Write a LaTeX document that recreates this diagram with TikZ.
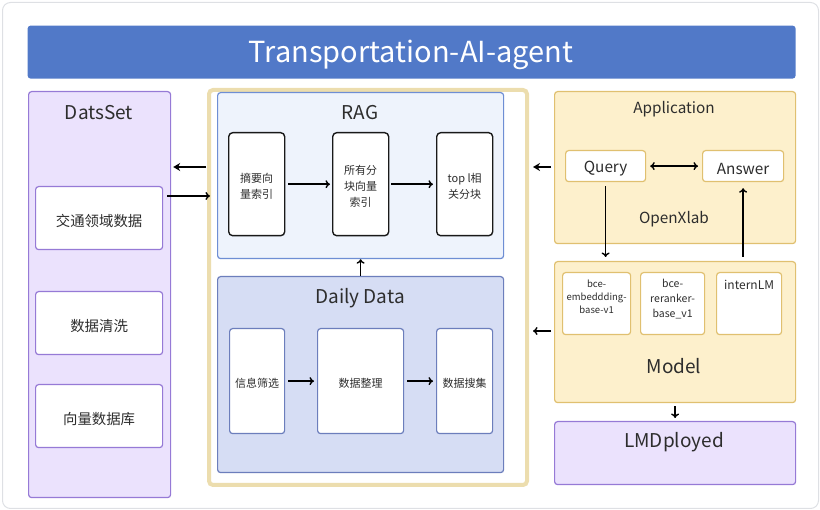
\documentclass[tikz,border=0pt]{standalone}
\usepackage{fontspec}
\setmainfont{Noto Sans CJK SC}
\usetikzlibrary{arrows.meta}
\definecolor{txt}{RGB}{45,45,45}
\definecolor{framegray}{RGB}{222,224,228}
\definecolor{titleblue}{RGB}{81,121,200}
\definecolor{lavfill}{RGB}{235,226,253}
\definecolor{lavdraw}{RGB}{150,122,214}
\definecolor{goldframe}{RGB}{236,221,174}
\definecolor{ragfill}{RGB}{238,243,252}
\definecolor{ragdraw}{RGB}{110,142,212}
\definecolor{dailyfill}{RGB}{214,221,244}
\definecolor{dailydraw}{RGB}{108,126,188}
\definecolor{yelfill}{RGB}{253,240,204}
\definecolor{yeldraw}{RGB}{224,192,112}
\tikzset{
  pnl/.style={draw, rounded corners=3pt, anchor=north west, inner sep=0pt, line width=1.2pt},
  lav/.style={pnl, fill=lavfill, draw=lavdraw},
  lavbox/.style={pnl, fill=white, draw=lavdraw},
  ragp/.style={pnl, fill=ragfill, draw=ragdraw},
  ragbox/.style={pnl, fill=white, draw=black!90, line width=1.4pt, rounded corners=4pt},
  dailyp/.style={pnl, fill=dailyfill, draw=dailydraw},
  dailybox/.style={pnl, fill=white, draw=dailydraw},
  yelp/.style={pnl, fill=yelfill, draw=yeldraw},
  yelbox/.style={pnl, fill=white, draw=yeldraw},
  lbl/.style={text=txt, inner sep=0pt, align=center, yshift=-2.5pt},
  big/.style={font=\fontsize{19}{22}\selectfont},
  mid/.style={font=\fontsize{15.3}{18}\selectfont},
  open/.style={-{To[length=4.5pt,width=8pt]}, line width=1.4pt},
  openboth/.style={{To[length=4.5pt,width=8pt]}-{To[length=4.5pt,width=8pt]}, line width=1.4pt},
  filled/.style={-{Stealth[length=7pt,width=8pt]}, line width=1.4pt},
}
\begin{document}
\begin{tikzpicture}[x=1pt,y=-1pt]
\useasboundingbox (0,0) rectangle (820,510);
% outer frame
\node[pnl, draw=framegray, line width=1pt, rounded corners=8pt, minimum width=816, minimum height=506] (frame) at (2,2) {};
% title bar
\node[pnl, fill=titleblue, draw=none, minimum width=768, minimum height=53] (bar) at (27,25) {};
\node[lbl, text=white, font=\fontsize{29}{32}\selectfont] (bartxt) at (411,52) {Transportation-AI-agent};

% DatsSet
\node[lav, minimum width=142, minimum height=406] (ds) at (28,91) {};
\node[lbl, big] (dstitle) at (99,110) {DatsSet};
\node[lavbox, minimum width=127, minimum height=63] (ds1) at (35,186) {};
\node[lbl, font=\fontsize{14.4}{17}\selectfont] at (ds1.center) {交通领域数据};
\node[lavbox, minimum width=127, minimum height=63] (ds2) at (35,291) {};
\node[lbl, font=\fontsize{14.4}{17}\selectfont] at (ds2.center) {数据清洗};
\node[lavbox, minimum width=127, minimum height=63] (ds3) at (35,384) {};
\node[lbl, font=\fontsize{14.4}{17}\selectfont] at (ds3.center) {向量数据库};

% middle frame
\node[pnl, fill=white, draw=goldframe, line width=4pt, rounded corners=4pt, minimum width=318, minimum height=395] (midf) at (207,88) {};

% RAG
\node[ragp, minimum width=286, minimum height=166] (rag) at (217,92) {};
\node[lbl, big] (ragtitle) at (360,110) {RAG};
\node[ragbox, minimum width=56, minimum height=103] (r1) at (228,132) {};
\node[lbl, font=\fontsize{11}{16}\selectfont] at (r1.center) {摘要向\\量索引};
\node[ragbox, minimum width=56, minimum height=103] (r2) at (332,132) {};
\node[lbl, font=\fontsize{11}{16}\selectfont] at (r2.center) {所有分\\块向量\\索引};
\node[ragbox, minimum width=56, minimum height=103] (r3) at (436,132) {};
\node[lbl, font=\fontsize{11}{16}\selectfont] at (r3.center) {top l相\\关分块};

% Daily Data
\node[dailyp, minimum width=286, minimum height=196] (daily) at (217,276) {};
\node[lbl, big] (dailytitle) at (360,296) {Daily Data};
\node[dailybox, minimum width=55, minimum height=105] (d1) at (229,328) {};
\node[lbl, font=\fontsize{11}{14}\selectfont] at (d1.center) {信息筛选};
\node[dailybox, minimum width=86, minimum height=105] (d2) at (317,328) {};
\node[lbl, font=\fontsize{11}{14}\selectfont] at (d2.center) {数据整理};
\node[dailybox, minimum width=56, minimum height=105] (d3) at (436,328) {};
\node[lbl, font=\fontsize{11}{14}\selectfont] at (d3.center) {数据搜集};

% Application
\node[yelp, minimum width=241, minimum height=152] (app) at (554,91) {};
\node[lbl, mid] (apptitle) at (674,107) {Application};
\node[yelbox, minimum width=80, minimum height=31] (q) at (565,150) {};
\node[lbl, mid] at (q.center) {Query};
\node[yelbox, minimum width=81, minimum height=31] (a) at (702,150) {};
\node[lbl, mid] at (a.center) {Answer};
\node[lbl, mid] (oxl) at (674,217) {OpenXlab};

% Model
\node[yelp, minimum width=241, minimum height=141] (model) at (554,261) {};
\node[yelbox, minimum width=68, minimum height=62] (m1) at (562,272) {};
\node[lbl, font=\fontsize{9.5}{13}\selectfont, anchor=north] at ([yshift=-5]m1.north) {bce-\\embeddding-\\base-v1};
\node[yelbox, minimum width=64, minimum height=62] (m2) at (640,272) {};
\node[lbl, font=\fontsize{10.5}{15}\selectfont, anchor=north] at ([yshift=-4]m2.north) {bce-\\reranker-\\base\_v1};
\node[yelbox, minimum width=65, minimum height=62] (m3) at (716,272) {};
\node[lbl, font=\fontsize{12}{15}\selectfont, anchor=north] at ([yshift=-6]m3.north) {internLM};
\node[lbl, big] (modeltitle) at (674,364) {Model};

% LMDployed
\node[lav, minimum width=241, minimum height=63] (lmd) at (554,421) {};
\node[lbl, big] (lmdtitle) at (674,440) {LMDployed};

% connectors
\draw[filled, shorten <=1pt, shorten >=2pt] (midf.west |- 0,167) -- (ds.east |- 0,167);
\draw[open, shorten <=-4pt, shorten >=-3pt] (ds.east |- 0,196) -- (midf.west |- 0,196);
\draw[open] (daily.north) -- (rag.south);
\draw[open, shorten <=3pt, shorten >=2pt] (r1.east) -- (r2.west);
\draw[open, shorten <=2pt, shorten >=3pt] (r2.east) -- (r3.west);
\draw[open, shorten <=3pt, shorten >=3pt] (d1.east) -- (d2.west);
\draw[open, shorten <=3pt, shorten >=3pt] (d2.east) -- (d3.west);
\draw[filled, shorten <=3pt, shorten >=4pt] (app.west |- 0,167) -- (midf.east |- 0,167);
\draw[open, shorten <=3pt, shorten >=4pt] (model.west |- 0,331) -- (midf.east |- 0,331);
\draw[openboth, shorten <=4pt, shorten >=4pt] (q.east) -- (a.west);
\draw[open, shorten <=4pt, shorten >=4pt] (q.south) -- (q.south |- model.north);
\draw[open, shorten <=4pt, shorten >=6pt] (a.south |- model.north) -- (a.south);
\draw[open, shorten <=3pt, shorten >=3pt] (model.south) -- (lmd.north);
\end{tikzpicture}
\end{document}
